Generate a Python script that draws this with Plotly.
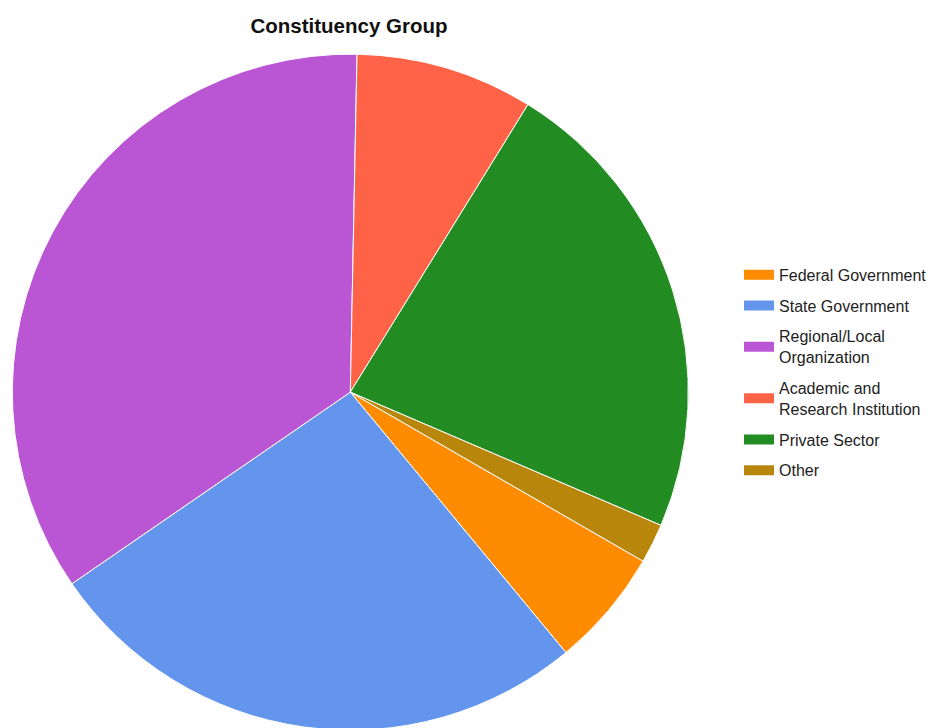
import plotly.graph_objects as go

labels = ["Federal Government", "State Government", "Regional/Local<br>Organization",
          "Academic and<br>Research Institution", "Private Sector", "Other"]
values = [6, 28, 37, 9, 24, 2]
colors = ["#FF8C00", "#6495ED", "#BA55D3", "#FF6347", "#228B22", "#B8860B"]

fig = go.Figure()
fig.add_trace(go.Pie(
    labels=labels, values=values, sort=False, direction="clockwise", rotation=120,
    marker=dict(colors=colors, line=dict(color="white", width=1)),
    textinfo="none", hoverinfo="label+value+percent", showlegend=False,
    domain=dict(x=[0.003, 0.7285], y=[0.008, 0.9366]),
))
# legend entries (rectangular swatches like the original)
for i, (lab, col) in enumerate(zip(labels, colors)):
    fig.add_trace(go.Scatter(
        x=[None], y=[None], mode="lines", name=lab, legendgroup=f"g{i}",
        line=dict(color=col, width=12), hoverinfo="skip",
    ))
fig.update_layout(
    width=936, height=728,
    margin=dict(l=0, r=0, t=0, b=0),
    paper_bgcolor="white", plot_bgcolor="white",
    xaxis=dict(visible=False), yaxis=dict(visible=False),
    font=dict(family="Liberation Sans, Arial, sans-serif", size=16, color="#222"),
    title=dict(text="<b>Constituency Group</b>", x=341 / 936, xanchor="center",
               y=1 - 18 / 728, yanchor="middle", font=dict(size=20.5, color="#111")),
    legend=dict(x=0.781, xanchor="left", y=0.499, yanchor="middle",
                font=dict(size=16, color="#222"), tracegroupgap=7,
                bgcolor="rgba(0,0,0,0)"),
)
fig.write_html("out.html")
